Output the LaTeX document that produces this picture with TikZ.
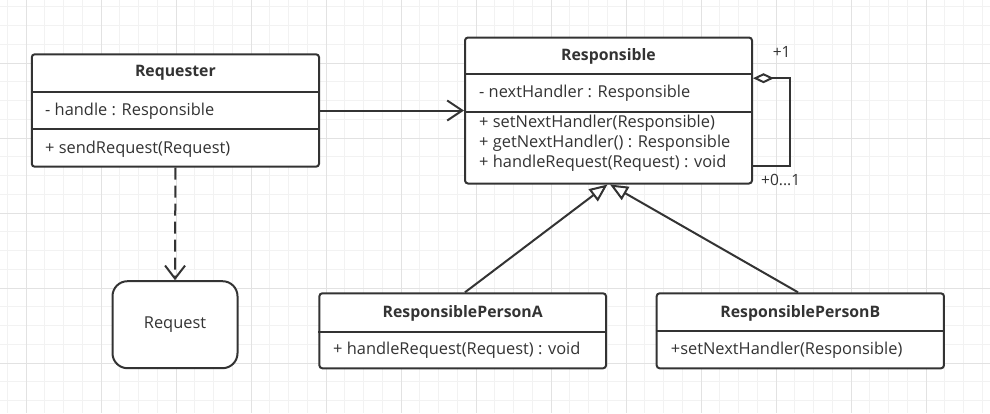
\documentclass[tikz,border=0pt]{standalone}
\usepackage{fontspec}
\setmainfont{Open Sans}
\usetikzlibrary{arrows.meta,calc}
\definecolor{ink}{HTML}{333333}
\definecolor{gridminor}{HTML}{F2F2F2}
\definecolor{gridmajor}{HTML}{E2E2E2}
\tikzset{
  classbox/.style={draw=ink, line width=2pt, rounded corners=3pt, fill=white, inner sep=0pt, minimum width=#1},
  titletext/.style={font=\fontsize{15.8}{18}\selectfont\bfseries, text=ink, inner sep=0pt},
  membertext/.style={font=\fontsize{16.4}{19}\selectfont, text=ink, inner sep=0pt, anchor=west},
  divider/.style={draw=ink, line width=2pt},
  conn/.style={draw=ink, line width=2pt},
  assoc/.style={conn, -{Straight Barb[length=15pt, width=20pt, line width=2pt]}},
  depend/.style={conn, dash pattern=on 12pt off 6pt, -{Straight Barb[length=13pt, width=20pt, line width=2pt]}},
  general/.style={conn, -{Triangle[open, length=18pt, width=15pt, line width=2pt, fill=white]}},
  aggreg/.style={conn, -{Diamond[open, length=21pt, width=10pt, line width=2pt, fill=white]}},
  multtext/.style={font=\fontsize{15.5}{17}\selectfont, text=ink, inner sep=0pt},
}
\begin{document}
\begin{tikzpicture}[x=1pt,y=-1pt]
\useasboundingbox (0,0) rectangle (990,413);
\fill[white] (0,0) rectangle (990,413);
% grid
\foreach \i in {0,...,53} {
  \draw[gridminor, line width=1pt] (7.25+\i*18.75,0) -- (7.25+\i*18.75,413);
}
\foreach \j in {0,...,22} {
  \draw[gridminor, line width=1pt] (0,6.75+\j*18.75) -- (990,6.75+\j*18.75);
}
\foreach \i in {0,...,13} {
  \draw[gridmajor, line width=1pt] (26+\i*75,0) -- (26+\i*75,413);
}
\foreach \j in {0,...,5} {
  \draw[gridmajor, line width=1pt] (0,-12+\j*75) -- (990,-12+\j*75);
}

% Requester
\node[classbox=287.3pt, minimum height=112.4pt] (req) at (175.4,110.5) {};
\draw[divider] (req.west |- 0,91.7) -- (req.east |- 0,91.7);
\draw[divider] (req.west |- 0,129.3) -- (req.east |- 0,129.3);
\node[titletext] (reqtitle) at (175.4,73) {Requester};
\node[membertext] (reqattr) at (45,111) {- handle : Responsible};
\node[membertext] (reqop) at (45,149) {+ sendRequest(Request)};

% Responsible
\node[classbox=287pt, minimum height=146pt] (resp) at (608.5,110.5) {};
\draw[divider] (resp.west |- 0,74) -- (resp.east |- 0,74);
\draw[divider] (resp.west |- 0,111.7) -- (resp.east |- 0,111.7);
\node[titletext] (resptitle) at (608.5,56) {Responsible};
\node[membertext] (respattr) at (479,93) {- nextHandler : Responsible};
\node[membertext] (respop1) at (479,123) {+ setNextHandler(Responsible)};
\node[membertext] (respop2) at (479,143) {+ getNextHandler() : Responsible};
\node[membertext] (respop3) at (479,163) {+ handleRequest(Request) : void};

% Request
\node[draw=ink, line width=2pt, rounded corners=15pt, minimum width=125pt, minimum height=87pt, inner sep=0pt,
      font=\fontsize{16.4}{19}\selectfont, text=ink, fill=white] (request) at (175,324.7) {Request};

% ResponsiblePersonA
\node[classbox=286.7pt, minimum height=75pt] (pa) at (462.7,330.8) {};
\draw[divider] (pa.west |- 0,331.7) -- (pa.east |- 0,331.7);
\node[titletext] (patitle) at (462.7,313) {ResponsiblePersonA};
\node[membertext] (paop) at (333,350) {+ handleRequest(Request) : void};

% ResponsiblePersonB
\node[classbox=287.3pt, minimum height=75pt] (pb) at (800.3,330.8) {};
\draw[divider] (pb.west |- 0,330.7) -- (pb.east |- 0,330.7);
\node[titletext] (pbtitle) at (800.3,313) {ResponsiblePersonB};
\node[membertext] (pbop) at (670.7,350.7) {+setNextHandler(Responsible)};

% connectors
\draw[assoc] (req.east) -- (resp.west);
\draw[depend] (req.south) -- (request.north);
\draw[general] ($(pa.north)+(2.3,0)$) -- ($(resp.south)+(-1,0)$);
\draw[general] ($(pb.north)+(-2.3,0)$) -- ($(resp.south)+(1.5,0)$);

% self association
\coordinate (sa1) at ($(resp.north east)+(0,41.7)$);
\coordinate (sa2) at ($(resp.north east)+(37,41.7)$);
\coordinate (sa3) at ($(resp.north east)+(37,129.3)$);
\coordinate (sa4) at ($(resp.north east)+(0,129.3)$);
\draw[aggreg, line join=miter] (sa4) -- (sa3) -- (sa2) -- (sa1);
\node[multtext] (m1) at (781.7,51.5) {+1};
\node[multtext] (m2) at (780.7,179.5) {+0...1};
\end{tikzpicture}
\end{document}
